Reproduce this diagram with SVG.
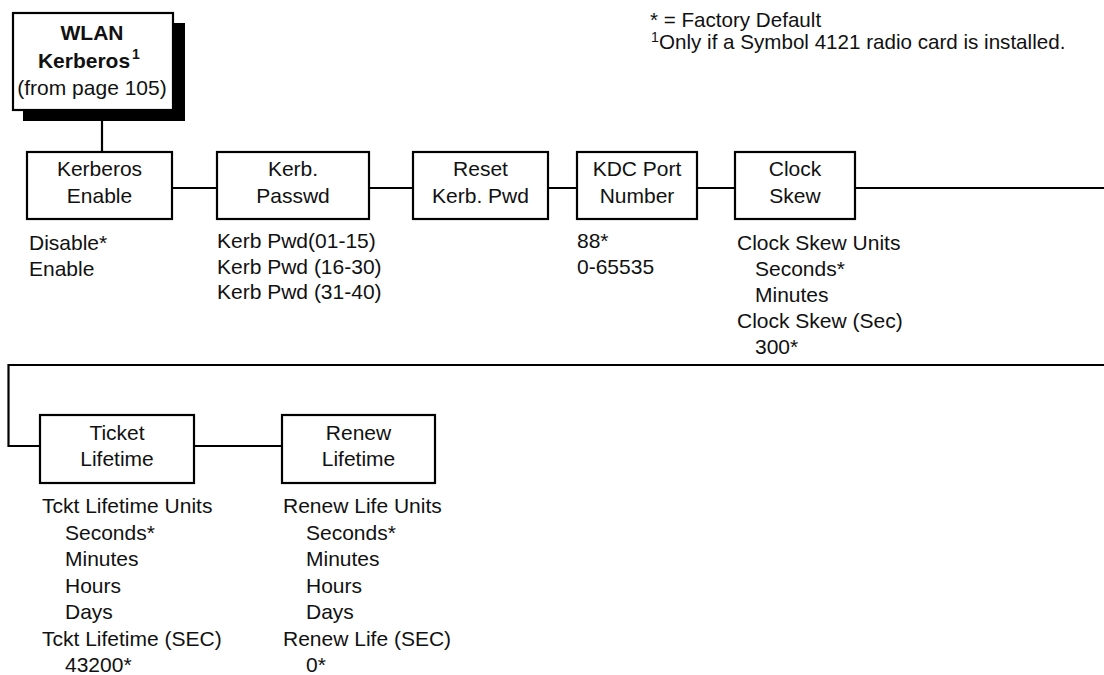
<svg xmlns="http://www.w3.org/2000/svg" width="1104" height="675" viewBox="0 0 1104 675">
<style>
text{font-family:"Liberation Sans",Arial,Helvetica,sans-serif;font-size:21px;fill:#111}
.c{text-anchor:middle}
.b{font-weight:bold}
.box{fill:#fff;stroke:#000;stroke-width:2.2}
.line{fill:none;stroke:#000;stroke-width:2.2}
.sup{font-size:14px}
.leg{font-size:20.6px}
</style>
<rect width="1104" height="675" fill="#fff"/>
<g id="connectors">
<path class="line" d="M102 120 V153"/>
<path class="line" d="M172 188 H217 M369 188 H413 M548 188 H577 M697 188 H735 M855 188 H1104"/>
<path class="line" d="M1104 365 H8.5 V446 H40"/>
<path class="line" d="M194 446 H282"/>
</g>
<g id="root">
<rect x="23" y="23" width="162" height="98" fill="#000"/>
<rect class="box" x="13" y="13" width="160" height="97"/>
<text class="c b" x="92" y="40">WLAN</text>
<text class="c b" x="84" y="68">Kerberos</text>
<text class="sup b" x="132" y="59">1</text>
<text class="c" x="92" y="95">(from page 105)</text>
</g>
<g id="legend">
<text class="leg" x="650" y="27">* = Factory Default</text>
<text class="sup" x="651" y="42">1</text>
<text class="leg" x="659" y="49">Only if a Symbol 4121 radio card is installed.</text>
</g>
<g id="kerberos-enable">
<rect class="box" x="27" y="152" width="145" height="67"/>
<text class="c" x="99.5" y="176">Kerberos</text>
<text class="c" x="99.5" y="203">Enable</text>
<text x="29" y="250">Disable*</text>
<text x="29" y="276">Enable</text>
</g>
<g id="kerb-passwd">
<rect class="box" x="217" y="152" width="152" height="67"/>
<text class="c" x="293" y="176">Kerb.</text>
<text class="c" x="293" y="203">Passwd</text>
<text x="217" y="248">Kerb Pwd(01-15)</text>
<text x="217" y="274">Kerb Pwd (16-30)</text>
<text x="217" y="299">Kerb Pwd (31-40)</text>
</g>
<g id="reset-kerb-pwd">
<rect class="box" x="413" y="152" width="135" height="67"/>
<text class="c" x="480.5" y="176">Reset</text>
<text class="c" x="480.5" y="203">Kerb. Pwd</text>
</g>
<g id="kdc-port">
<rect class="box" x="577" y="152" width="120" height="67"/>
<text class="c" x="637" y="176">KDC Port</text>
<text class="c" x="637" y="203">Number</text>
<text x="577" y="248">88*</text>
<text x="577" y="274">0-65535</text>
</g>
<g id="clock-skew">
<rect class="box" x="735" y="152" width="120" height="67"/>
<text class="c" x="795" y="176">Clock</text>
<text class="c" x="795" y="203">Skew</text>
<text x="737" y="250">Clock Skew Units</text>
<text x="755" y="276">Seconds*</text>
<text x="755" y="302">Minutes</text>
<text x="737" y="328">Clock Skew (Sec)</text>
<text x="755" y="354">300*</text>
</g>
<g id="ticket-lifetime">
<rect class="box" x="40" y="415" width="154" height="68"/>
<text class="c" x="117" y="440">Ticket</text>
<text class="c" x="117" y="466">Lifetime</text>
<text x="42" y="513">Tckt Lifetime Units</text>
<text x="65" y="540">Seconds*</text>
<text x="65" y="566">Minutes</text>
<text x="65" y="593">Hours</text>
<text x="65" y="619">Days</text>
<text x="42" y="646">Tckt Lifetime (SEC)</text>
<text x="65" y="672">43200*</text>
</g>
<g id="renew-lifetime">
<rect class="box" x="282" y="415" width="153" height="68"/>
<text class="c" x="358.5" y="440">Renew</text>
<text class="c" x="358.5" y="466">Lifetime</text>
<text x="283" y="513">Renew Life Units</text>
<text x="306" y="540">Seconds*</text>
<text x="306" y="566">Minutes</text>
<text x="306" y="593">Hours</text>
<text x="306" y="619">Days</text>
<text x="283" y="646">Renew Life (SEC)</text>
<text x="306" y="672">0*</text>
</g>
</svg>
